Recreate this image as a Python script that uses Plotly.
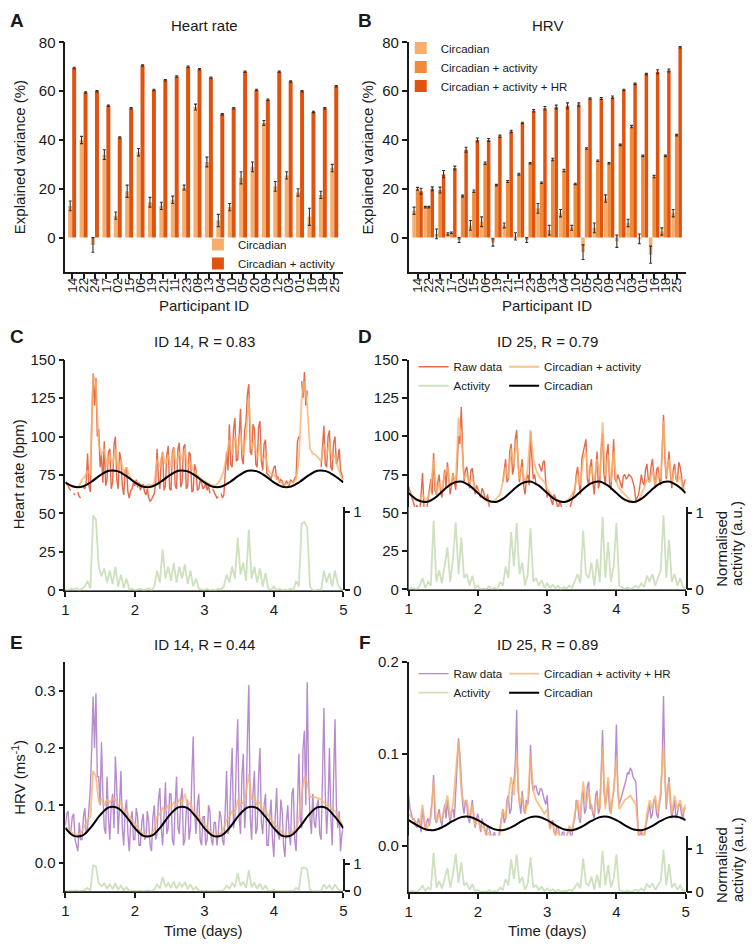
import numpy as np
import plotly.graph_objects as go

FONT = "Liberation Sans, Arial, Helvetica, sans-serif"
INK = "#1a1a1a"

# ---------------- Panel A / B data ----------------
ids = ["14", "22", "24", "17", "02", "15", "06", "19", "21", "11", "23", "08",
       "13", "04", "10", "05", "20", "09", "12", "03", "01", "16", "18", "25"]

hr_circ = [13, 40, -3, 34, 9, 19, 35, 14.5, 13, 15.5, 20.5, 53.5,
           31, 7, 12.5, 24.5, 29, 47, 21, 25.5, 18.5, 8.5, 17.5, 28.5]
hr_circ_err = [2, 1.5, 3, 2, 1.5, 2.5, 1.5, 2, 1.5, 1.5, 1, 1.2,
               2, 2.5, 1.5, 2.5, 2, 1, 2, 1.5, 1.5, 3.5, 1.5, 1.5]
hr_act = [69.5, 59.5, 60, 54, 41, 53, 70.5, 60.5, 64.5, 66, 70, 69,
          65.5, 50.5, 53, 68, 60.5, 56.5, 68, 64, 60, 51.5, 53, 62]
hr_act_err = [0.3] * 24

hrv_circ = [11, 12.5, 1.5, 1.5, -1, 5, 6.5, -2, 5, 0.5, -1, 12,
            3, 10, 4, -6, 4, 16, -1.5, 6, -0.5, -7, 2.5, 10]
hrv_circ_err = [1.5, 0.3, 2, 0.5, 1, 2, 2, 1.5, 1, 1.5, 1, 2,
                2, 1.5, 1, 3, 2, 1.5, 2.5, 1.5, 2, 3.5, 1.5, 1.5]
hrv_act = [20, 12.5, 19.5, 2, 17, 19, 30.5, 21.5, 23, 26, 30.5, 22.5,
           32, 27.5, 22, 36.5, 31.5, 30.5, 38, 45.5, 33.5, 25, 33.5, 42]
hrv_act_err = [0.6, 0.3, 1.2, 0.3, 0.4, 0.5, 0.5, 0.3, 0.4, 0.4, 0.3, 0.3,
               0.5, 0.5, 0.3, 0.3, 0.3, 0.3, 0.3, 0.5, 0.3, 0.5, 0.3, 0.3]
hrv_hr = [19, 20, 26, 28.5, 36, 40, 40, 41.5, 43.5, 47, 52, 53,
          53.5, 54, 54.5, 57, 57, 57.5, 60.5, 63, 67, 68, 68.5, 78]
hrv_hr_err = [1.2, 0.8, 1.5, 0.8, 1, 0.8, 0.6, 0.5, 0.5, 0.3, 0.5, 0.7,
              0.8, 1.2, 0.7, 0.3, 0.4, 0.5, 0.3, 0.3, 0.3, 0.8, 0.6, 0.3]

# ---------------- Time series data ----------------
t_r = np.round(np.linspace(1, 5, 201), 2)  # raw data: every 0.02 day
t = np.round(np.linspace(1, 5, 101), 2)    # model fits / activity: every 0.04 day
t_c = np.linspace(1, 5, 33)                # circadian fit: every 3 h

# ID 14 heart rate (raw), rows of 0.2 day
c_raw = [70, 69, 68, 66, 65, None, 63, 62, None, 64,
         61, 60, None, 67, 66, 70, 89, 68, 64, 110,
         141, 120, 138, 100, 105, 80, 88, 70, 97, 68,
         72, 90, 92, 66, 70, 95, 100, 72, 66, 90,
         85, 68, 62, 78, 80, 64, 60, 65, 66, 70,
         68, 72, 67, 70, 65, 68, 69, 64, 62, 66,
         60, 58, 59, 61, 63, 70, 92, 72, 66, 85,
         90, 65, 68, 88, 94, 66, 65, 90, 93, 68,
         66, 92, 96, 67, 70, 93, 95, 66, 68, 90,
         88, 64, 65, 82, 78, 65, 66, 72, 70, 66,
         67, 70, 65, 68, 63, None, 66, 64, 62, 60,
         61, None, 63, 60, 62, 75, 90, 78, 108, 82,
         80, 105, 112, 84, 85, 100, 118, 86, 82, 104,
         110, 128, 134, 90, 88, 108, 105, 82, 80, 106,
         110, 84, 78, 95, 98, 76, 75, 74, 72, 76,
         80, 81, 72, 74, 70, 72, 71, 68, 69, 71,
         70, 68, 72, 71, 70, 73, 74, 97, 100, None,
         136, 125, 142, 120, 130, None, None, None, None, None,
         None, None, None, None, 80, 98, 107, 82, 80, 100,
         104, 80, 78, 96, 100, 82, 85, 92, 78, 75,
         72]
c_fit = [70, 69, 68, 68, 67, 68, 72, 74, 78, 75,
         140, 135, 95, 88, 92, 80, 88, 82, 92, 78,
         85, 76, 80, 75, 72, 71, 70, 69, 68, 68,
         69, 68, 70, 85, 80, 90, 82, 88, 80, 92,
         82, 90, 85, 92, 80, 84, 78, 76, 74, 72,
         71, 70, 69, 68, 68, 70, 73, 78, 88, 98,
         88, 100, 90, 102, 88, 100, 125, 92, 98, 86,
         95, 84, 88, 78, 76, 75, 73, 71, 70, 69,
         69, 70, 70, 72, 85, 125, 136, 120, 92, 89,
         88, 86, 84, 95, 88, 96, 85, 88, 80, 75,
         71]
act_14 = [0.01, 0.00, 0.02, 0.01, 0.03, 0.00, 0.02, 0.05, 0.12, 0.02,
          0.95, 0.90, 0.30, 0.18, 0.28, 0.10, 0.25, 0.08, 0.30, 0.05,
          0.20, 0.03, 0.15, 0.01, 0.02, 0.00, 0.01, 0.02, 0.00, 0.01,
          0.03, 0.00, 0.05, 0.25, 0.10, 0.52, 0.15, 0.30, 0.12, 0.35,
          0.10, 0.30, 0.15, 0.33, 0.08, 0.25, 0.05, 0.15, 0.02, 0.01,
          0.00, 0.02, 0.00, 0.01, 0.00, 0.02, 0.01, 0.05, 0.20, 0.10,
          0.30, 0.15, 0.67, 0.20, 0.35, 0.12, 0.77, 0.15, 0.30, 0.10,
          0.28, 0.05, 0.22, 0.02, 0.01, 0.05, 0.00, 0.02, 0.00, 0.01,
          0.00, 0.02, 0.00, 0.12, 0.05, 0.85, 0.87, 0.80, 0.05, 0.00,
          0.00, 0.01, 0.00, 0.25, 0.10, 0.22, 0.05, 0.25, 0.08, 0.02,
          0.00]
c_circ = [70.2, 67.3, 67.5, 70.6, 74.8, 77.7, 77.5, 74.4,
          70.2, 67.3, 67.5, 70.6, 74.8, 77.7, 77.5, 74.4,
          70.2, 67.3, 67.5, 70.6, 74.8, 77.7, 77.5, 74.4,
          70.2, 67.3, 67.5, 70.6, 74.8, 77.7, 77.5, 74.4, 70.2]

# ID 25 heart rate (raw)
d_raw = [67, 64, 62, 58, 56, 52, 55, 53, 50, 62,
         76, 55, 47, 52, 60, 66, 72, 62, 89, 65,
         62, 70, 75, 64, 60, 70, 78, 66, 83, 72,
         62, 68, 76, 70, 65, 80, 100, 95, 119, 90,
         70, 78, 80, 72, 66, 78, 79, 70, 62, 68,
         65, 62, 60, 66, 64, 60, 58, 62, 55, 52,
         47, 50, 52, 49, 48, 52, 51, None, 70, 78,
         85, 70, 72, 90, 95, 75, 80, 98, 104, 82,
         70, 78, 85, 68, 62, 72, 75, 68, 103, 85,
         72, 75, 68, None, 82, 80, 77, 83, 84, 70,
         60, 64, 62, 58, 55, 62, 60, 56, 52, 58,
         55, 50, 48, 52, 54, 50, 50, 55, 58, 62,
         65, 75, 80, 70, 62, 85, 90, 95, 98, 72,
         68, 80, 85, 70, 62, 75, 90, 66, 70, 92,
         102, 75, 68, 88, 95, 70, 65, 80, 98, 72,
         70, 75, 72, 68, 66, 74, 75, 72, 73, 75,
         74, 73, 70, 66, 58, 60, 62, 68, 75, 70,
         68, 78, 82, 72, 70, 80, 85, 75, 66, 78,
         80, 72, 68, 90, 114, 85, 72, 80, 90, 75,
         66, 78, 82, 72, 70, 83, 80, 74, 65, 70,
         72]
d_fit = [64, 62, 59, 58, 58, 62, 58, 60, 66, 85,
         62, 70, 64, 75, 80, 66, 75, 70, 112, 100,
         72, 75, 70, 72, 66, 64, 62, 60, 58, 57,
         57, 58, 60, 62, 70, 80, 72, 92, 82, 98,
         72, 80, 68, 80, 104, 85, 78, 74, 72, 70,
         66, 63, 60, 59, 58, 57, 57, 58, 59, 62,
         66, 75, 68, 85, 90, 72, 80, 70, 85, 74,
         109, 74, 88, 70, 90, 70, 66, 64, 62, 60,
         58, 57, 57, 58, 62, 66, 72, 70, 78, 68,
         76, 72, 110, 74, 85, 70, 78, 70, 74, 66,
         66]
act_25 = [0.00, 0.02, 0.01, 0.00, 0.05, 0.15, 0.02, 0.10, 0.05, 0.90,
          0.10, 0.25, 0.08, 0.35, 0.55, 0.10, 0.40, 0.88, 0.20, 0.68,
          0.15, 0.20, 0.05, 0.18, 0.02, 0.05, 0.00, 0.01, 0.00, 0.04,
          0.00, 0.02, 0.00, 0.10, 0.05, 0.30, 0.15, 0.75, 0.30, 0.87,
          0.20, 0.35, 0.05, 0.20, 0.80, 0.10, 0.15, 0.05, 0.12, 0.02,
          0.08, 0.02, 0.06, 0.01, 0.05, 0.00, 0.03, 0.01, 0.05, 0.02,
          0.10, 0.20, 0.08, 0.77, 0.20, 0.15, 0.35, 0.05, 0.40, 0.10,
          0.95, 0.15, 0.62, 0.10, 0.30, 0.87, 0.05, 0.02, 0.00, 0.03,
          0.00, 0.02, 0.05, 0.02, 0.08, 0.03, 0.18, 0.10, 0.20, 0.05,
          0.15, 0.25, 0.97, 0.15, 0.65, 0.10, 0.20, 0.05, 0.15, 0.03,
          0.02]
d_circ = [62.9, 58.4, 57.05, 59.6, 64.6, 69.1, 70.45, 67.9,
          62.9, 58.4, 57.05, 59.6, 64.6, 69.1, 70.45, 67.9,
          62.9, 58.4, 57.05, 59.6, 64.6, 69.1, 70.45, 67.9,
          62.9, 58.4, 57.05, 59.6, 64.6, 69.1, 70.45, 67.9, 62.9]

# ID 14 HRV (raw)
e_raw = [0.065, 0.085, 0.090, 0.050, 0.055, 0.080, 0.085, 0.040, 0.030, 0.020,
         0.070, 0.040, 0.040, 0.080, 0.095, 0.050, 0.060, 0.090, 0.130, 0.200,
         0.290, 0.200, 0.295, 0.150, 0.150, 0.100, 0.210, 0.120, 0.060, 0.050,
         0.150, 0.080, 0.040, 0.100, 0.120, 0.060, 0.185, 0.130, 0.050, 0.100,
         0.160, 0.060, 0.030, 0.090, 0.110, 0.050, 0.020, 0.070, 0.090, 0.040,
         0.040, 0.095, 0.080, 0.030, 0.030, 0.070, 0.085, 0.040, 0.045, 0.090,
         0.070, 0.030, 0.020, 0.080, 0.100, 0.040, 0.050, 0.110, 0.130, 0.060,
         0.030, 0.080, 0.140, 0.050, 0.060, 0.120, 0.120, 0.040, 0.030, 0.100,
         0.150, 0.060, 0.050, 0.110, 0.130, 0.030, 0.040, 0.090, 0.110, 0.040,
         0.060, 0.150, 0.220, 0.090, 0.050, 0.100, 0.120, 0.040, 0.030, 0.080,
         0.080, 0.030, 0.040, 0.100, 0.090, 0.040, 0.030, 0.070, 0.070, 0.030,
         0.050, 0.090, 0.080, 0.040, 0.030, 0.090, 0.160, 0.050, 0.060, 0.140,
         0.200, 0.060, 0.080, 0.180, 0.250, 0.080, 0.050, 0.150, 0.190, 0.060,
         0.100, 0.220, 0.310, 0.080, 0.040, 0.120, 0.160, 0.050, 0.060, 0.150,
         0.200, 0.070, 0.050, 0.100, 0.120, 0.030, 0.030, 0.080, 0.110, 0.040,
         0.010, 0.080, 0.130, 0.050, 0.040, 0.110, 0.090, 0.030, 0.010, 0.070,
         0.100, 0.050, 0.030, 0.120, 0.130, 0.040, 0.020, 0.100, 0.190, 0.080,
         0.060, 0.200, 0.230, 0.100, 0.315, 0.150, 0.080, 0.050, 0.120, 0.070,
         0.060, 0.100, 0.110, 0.050, 0.040, 0.150, 0.270, 0.120, 0.050, 0.100,
         0.200, 0.080, 0.030, 0.150, 0.250, 0.100, 0.060, 0.090, 0.020, 0.050,
         0.060]
e_fit = [0.062, 0.058, 0.054, 0.050, 0.048, 0.050, 0.055, 0.065, 0.075, 0.080,
         0.160, 0.150, 0.105, 0.110, 0.100, 0.110, 0.105, 0.112, 0.110, 0.100,
         0.105, 0.090, 0.090, 0.080, 0.075, 0.068, 0.060, 0.055, 0.050, 0.047,
         0.046, 0.050, 0.058, 0.080, 0.085, 0.095, 0.090, 0.100, 0.095, 0.105,
         0.100, 0.110, 0.105, 0.120, 0.100, 0.105, 0.090, 0.085, 0.080, 0.072,
         0.066, 0.060, 0.055, 0.050, 0.047, 0.048, 0.052, 0.060, 0.075, 0.080,
         0.090, 0.085, 0.110, 0.100, 0.105, 0.120, 0.155, 0.110, 0.115, 0.100,
         0.105, 0.090, 0.092, 0.082, 0.075, 0.068, 0.062, 0.057, 0.052, 0.048,
         0.047, 0.050, 0.055, 0.060, 0.075, 0.120, 0.150, 0.140, 0.115, 0.115,
         0.114, 0.112, 0.110, 0.105, 0.100, 0.100, 0.092, 0.090, 0.080, 0.070,
         0.062]
e_circ = [0.0602, 0.0466, 0.0475, 0.0625, 0.0828, 0.0964, 0.0955, 0.0805,
          0.0602, 0.0466, 0.0475, 0.0625, 0.0828, 0.0964, 0.0955, 0.0805,
          0.0602, 0.0466, 0.0475, 0.0625, 0.0828, 0.0964, 0.0955, 0.0805,
          0.0602, 0.0466, 0.0475, 0.0625, 0.0828, 0.0964, 0.0955, 0.0805, 0.0602]

# ID 25 HRV (raw)
f_raw = [0.055, 0.040, 0.035, 0.028, 0.030, 0.022, 0.020, 0.030, 0.025, 0.015,
         0.040, 0.025, 0.018, 0.026, 0.030, 0.022, 0.035, 0.050, 0.077, 0.030,
         0.025, 0.035, 0.040, 0.028, 0.022, 0.035, 0.045, 0.030, 0.050, 0.035,
         0.025, 0.038, 0.040, 0.030, 0.060, 0.090, 0.117, 0.100, 0.070, 0.045,
         0.035, 0.050, 0.045, 0.030, 0.025, 0.040, 0.050, 0.030, 0.020, 0.030,
         0.035, 0.025, 0.015, 0.030, 0.025, 0.018, 0.012, 0.022, 0.020, 0.012,
         0.008, 0.012, 0.015, 0.005, 0.005, 0.010, 0.020, 0.035, 0.040, 0.025,
         0.030, 0.050, 0.055, 0.035, 0.040, 0.065, 0.070, 0.090, 0.148, 0.060,
         0.050, 0.035, 0.060, 0.040, 0.035, 0.050, 0.045, 0.060, 0.110, 0.070,
         0.060, 0.065, 0.065, 0.058, 0.055, 0.062, 0.062, 0.055, 0.050, 0.045,
         0.055, 0.030, 0.020, 0.025, 0.028, 0.015, 0.012, 0.022, 0.020, 0.010,
         0.008, 0.015, 0.015, 0.005, 0.006, 0.018, 0.020, 0.010, 0.012, 0.025,
         0.030, 0.050, 0.045, 0.030, 0.025, 0.055, 0.060, 0.035, 0.040, 0.065,
         0.070, 0.040, 0.045, 0.035, 0.030, 0.055, 0.060, 0.035, 0.040, 0.080,
         0.126, 0.060, 0.045, 0.055, 0.070, 0.040, 0.035, 0.050, 0.060, 0.080,
         0.132, 0.060, 0.045, 0.050, 0.055, 0.062, 0.065, 0.072, 0.080, 0.078,
         0.085, 0.082, 0.075, 0.072, 0.070, 0.040, 0.010, 0.012, 0.015, 0.010,
         0.008, 0.020, 0.030, 0.040, 0.045, 0.030, 0.035, 0.050, 0.050, 0.035,
         0.030, 0.045, 0.055, 0.090, 0.163, 0.080, 0.040, 0.060, 0.075, 0.045,
         0.030, 0.040, 0.050, 0.030, 0.035, 0.045, 0.045, 0.035, 0.030, 0.042,
         0.040]
f_fit = [0.035, 0.032, 0.028, 0.025, 0.020, 0.045, 0.018, 0.022, 0.030, 0.070,
         0.025, 0.035, 0.028, 0.040, 0.055, 0.030, 0.045, 0.080, 0.115, 0.060,
         0.045, 0.050, 0.030, 0.045, 0.022, 0.030, 0.018, 0.022, 0.010, 0.015,
         0.005, 0.012, -0.002, 0.015, 0.040, 0.030, 0.050, 0.075, 0.055, 0.100,
         0.045, 0.055, 0.035, 0.048, 0.100, 0.060, 0.050, 0.045, 0.040, 0.035,
         0.040, 0.018, 0.025, 0.010, 0.018, 0.005, 0.012, 0.008, 0.022, 0.015,
         0.035, 0.050, 0.030, 0.070, 0.045, 0.060, 0.040, 0.035, 0.055, 0.040,
         0.108, 0.040, 0.075, 0.035, 0.060, 0.095, 0.040, 0.045, 0.050, 0.052,
         0.055, 0.050, 0.045, 0.012, 0.018, 0.010, 0.035, 0.050, 0.040, 0.055,
         0.035, 0.060, 0.108, 0.045, 0.070, 0.035, 0.055, 0.040, 0.050, 0.035,
         0.045]
f_circ = [0.0281, 0.0224, 0.0179, 0.0173, 0.0209, 0.0266, 0.0311, 0.0317,
          0.0281, 0.0224, 0.0179, 0.0173, 0.0209, 0.0266, 0.0311, 0.0317,
          0.0281, 0.0224, 0.0179, 0.0173, 0.0209, 0.0266, 0.0311, 0.0317,
          0.0281, 0.0224, 0.0179, 0.0173, 0.0209, 0.0266, 0.0311, 0.0317, 0.0281]

# ---------------- Styles ----------------
C_LIGHT = "#F7AE6C"
C_MID = "#F08B3A"
C_DARK = "#E2520F"
RAW_HR = "rgba(224,90,55,0.9)"
FIT_COL = "rgba(250,178,110,0.8)"
ACT_COL = "rgba(190,215,170,0.75)"
RAW_HRV = "rgba(170,120,195,0.85)"

W, H = 752, 949


def px_x(a, b):
    return [a / W, b / W]


def px_y(top, bottom):
    return [1 - bottom / H, 1 - top / H]


fig = go.Figure()

err_style = dict(type="data", color="#333", thickness=1.1, width=1.5)

# Panel A
fig.add_trace(go.Bar(x=ids, y=hr_circ, name="Circadian", marker_color=C_LIGHT,
                     width=0.35, offset=-0.35, error_y=dict(array=hr_circ_err, **err_style),
                     xaxis="x", yaxis="y", legend="legend", marker_line_width=0))
fig.add_trace(go.Bar(x=ids, y=hr_act, name="Circadian + activity", marker_color=C_DARK,
                     width=0.35, offset=0.0, error_y=dict(array=hr_act_err, **err_style),
                     xaxis="x", yaxis="y", legend="legend", marker_line_width=0))
# Panel B
fig.add_trace(go.Bar(x=ids, y=hrv_circ, name="Circadian", marker_color=C_LIGHT,
                     width=0.31, offset=-0.465, error_y=dict(array=hrv_circ_err, **err_style),
                     xaxis="x2", yaxis="y2", legend="legend2", marker_line_width=0))
fig.add_trace(go.Bar(x=ids, y=hrv_act, name="Circadian + activity", marker_color=C_MID,
                     width=0.31, offset=-0.155, error_y=dict(array=hrv_act_err, **err_style),
                     xaxis="x2", yaxis="y2", legend="legend2", marker_line_width=0))
fig.add_trace(go.Bar(x=ids, y=hrv_hr, name="Circadian + activity + HR", marker_color=C_DARK,
                     width=0.31, offset=0.155, error_y=dict(array=hrv_hr_err, **err_style),
                     xaxis="x2", yaxis="y2", legend="legend2", marker_line_width=0))


def add_ts(xa, ya, yact, raw, raw_col, fit, circ, act, fit_name, leg_a, leg_b, show):
    fig.add_trace(go.Scatter(x=t, y=act, mode="lines", name="Activity",
                             line=dict(color=ACT_COL, width=1.8), xaxis=xa, yaxis=yact,
                             showlegend=show, legend=leg_a, legendrank=2))
    fig.add_trace(go.Scatter(x=t_r, y=raw, mode="lines", name="Raw data",
                             line=dict(color=raw_col, width=1.4), xaxis=xa, yaxis=ya,
                             connectgaps=False, showlegend=show, legend=leg_a, legendrank=1))
    fig.add_trace(go.Scatter(x=t, y=fit, mode="lines", name=fit_name,
                             line=dict(color=FIT_COL, width=1.8), xaxis=xa, yaxis=ya,
                             showlegend=show, legend=leg_b, legendrank=1))
    fig.add_trace(go.Scatter(x=t_c, y=circ, mode="lines", name="Circadian",
                             line=dict(color="black", width=2, shape="spline", smoothing=1),
                             xaxis=xa, yaxis=ya, showlegend=show, legend=leg_b, legendrank=2))


add_ts("x3", "y3", "y7", c_raw, RAW_HR, c_fit, c_circ, act_14, "Circadian + activity",
       "legend3", "legend4", False)
add_ts("x4", "y4", "y8", d_raw, RAW_HR, d_fit, d_circ, act_25, "Circadian + activity",
       "legend3", "legend4", True)
add_ts("x5", "y5", "y9", e_raw, RAW_HRV, e_fit, e_circ, act_14, "Circadian + activity + HR",
       "legend5", "legend6", False)
add_ts("x6", "y6", "y10", f_raw, RAW_HRV, f_fit, f_circ, act_25, "Circadian + activity + HR",
       "legend5", "legend6", True)

tickfont = dict(family=FONT, size=15, color=INK)
axis_common = dict(showline=True, linecolor=INK, linewidth=1.6, ticks="outside",
                   ticklen=5, tickwidth=1.6, tickcolor=INK, showgrid=False,
                   zeroline=False, tickfont=tickfont)
cat_axis = {**axis_common, "tickfont": dict(family=FONT, size=13.5, color=INK),
            "ticklabelstandoff": -7}

XA, XB = px_x(62, 343), px_x(409, 689)

layout = dict(
    width=W, height=H, margin=dict(l=0, r=0, t=0, b=0),
    paper_bgcolor="white", plot_bgcolor="white",
    font=dict(family=FONT, size=15, color=INK),
    barmode="overlay",
    # A
    xaxis=dict(domain=XA, anchor="y", type="category", range=[-0.6, 23.8],
               tickmode="array", tickvals=ids, ticktext=ids, tickangle=-90, **cat_axis),
    yaxis=dict(domain=px_y(34, 268.3), anchor="x", range=[-14.3, 80],
               tickvals=[0, 20, 40, 60, 80], **axis_common),
    # B
    xaxis2=dict(domain=XB, anchor="y2", type="category", range=[-0.79, 23.8],
                tickmode="array", tickvals=ids, ticktext=ids, tickangle=-90, **cat_axis),
    yaxis2=dict(domain=px_y(34, 268.3), anchor="x2", range=[-14.3, 80],
                tickvals=[0, 20, 40, 60, 80], **axis_common),
    # C
    xaxis3=dict(domain=XA, anchor="y3", range=[1, 5], tickvals=[1, 2, 3, 4, 5], **axis_common),
    yaxis3=dict(domain=px_y(357, 592), anchor="x3", range=[0, 150],
                tickvals=[0, 25, 50, 75, 100, 125, 150], **axis_common),
    yaxis7=dict(domain=px_y(507, 592), anchor="x3", side="right", range=[0, 1.06],
                tickvals=[0, 1], **axis_common),
    # D
    xaxis4=dict(domain=XB, anchor="y4", range=[1, 5], tickvals=[1, 2, 3, 4, 5], **axis_common),
    yaxis4=dict(domain=px_y(357, 591), anchor="x4", range=[0, 150],
                tickvals=[0, 25, 50, 75, 100, 125, 150], **axis_common),
    yaxis8=dict(domain=px_y(507, 591), anchor="x4", side="right", range=[0, 1.08],
                tickvals=[0, 1], **axis_common),
    # E
    xaxis5=dict(domain=XA, anchor="y5", range=[1, 5], tickvals=[1, 2, 3, 4, 5], **axis_common),
    yaxis5=dict(domain=px_y(665, 898.3), anchor="x5", range=[-0.05, 0.35],
                tickvals=[0, 0.1, 0.2, 0.3], ticktext=["0.0", "0.1", "0.2", "0.3"], **axis_common),
    yaxis9=dict(domain=px_y(865, 898.3), anchor="x5", side="right", range=[0, 1.2],
                tickvals=[0, 1], **axis_common),
    # F
    xaxis6=dict(domain=XB, anchor="y6", range=[1, 5], tickvals=[1, 2, 3, 4, 5], **axis_common),
    yaxis6=dict(domain=px_y(665, 899), anchor="x6", range=[-0.05, 0.2],
                tickvals=[0, 0.1, 0.2], ticktext=["0.0", "0.1", "0.2"], **axis_common),
    yaxis10=dict(domain=px_y(841.7, 899), anchor="x6", side="right", range=[0, 1.3],
                 tickvals=[0, 1], **axis_common),
)

legfont = dict(family=FONT, size=11.5, color=INK)
leg_common = dict(bgcolor="rgba(0,0,0,0)", font=legfont, xanchor="left", yanchor="top",
                  orientation="v", tracegroupgap=0)
layout["legend"] = dict(x=196 / W, y=1 - 225 / H, **leg_common)
layout["legend2"] = dict(x=401 / W, y=1 - 25 / H, **leg_common)
layout["legend3"] = dict(x=414 / W, y=1 - 349.5 / H, **leg_common)
layout["legend4"] = dict(x=505.5 / W, y=1 - 349.5 / H, **leg_common)
layout["legend5"] = dict(x=414 / W, y=1 - 662 / H, **leg_common)
layout["legend6"] = dict(x=505.5 / W, y=1 - 662 / H, **leg_common)

fig.update_layout(**layout)

# ---------------- Text annotations ----------------
ann = []


def txt(x, y, s, size=15, bold=False, angle=0, xa="center", ya="middle"):
    ann.append(dict(x=x / W, y=1 - y / H, xref="paper", yref="paper",
                    text=("<b>" + s + "</b>") if bold else s,
                    showarrow=False, textangle=angle, xanchor=xa, yanchor=ya,
                    font=dict(family=FONT, size=size, color=INK)))


# panel letters
for letter, (x, y) in {"A": (13, 12), "B": (365, 12), "C": (13, 333),
                       "D": (365, 333), "E": (13, 645), "F": (365, 645)}.items():
    txt(x, y, letter, size=19, bold=True)

# panel titles
txt(203, 17, "Heart rate")
txt(549, 17, "HRV")
txt(203, 339, "ID 14, R = 0.83")
txt(549, 339, "ID 25, R = 0.79")
txt(203, 647, "ID 14, R = 0.44")
txt(549, 647, "ID 25, R = 0.89")

# axis titles
txt(15, 151, "Explained variance (%)", angle=-90)
txt(367, 151, "Explained variance (%)", angle=-90)
txt(202, 302, "Participant ID")
txt(549, 302, "Participant ID")
txt(15, 474, "Heart rate (bpm)", angle=-90)
txt(15, 782, "HRV (ms<sup>-1</sup>)", angle=-90)
txt(725, 590, "Normalised", angle=-90, ya="bottom")
txt(741, 590, "activity (a.u.)", angle=-90, ya="bottom")
txt(725, 912, "Normalised", angle=-90, ya="bottom")
txt(741, 912, "activity (a.u.)", angle=-90, ya="bottom")
txt(202, 938, "Time (days)")
txt(549, 938, "Time (days)")

fig.update_layout(annotations=ann)

fig.write_html("out.html", config={"displayModeBar": False},
               post_script="document.body.style.margin='0';document.body.style.overflow='hidden';")
